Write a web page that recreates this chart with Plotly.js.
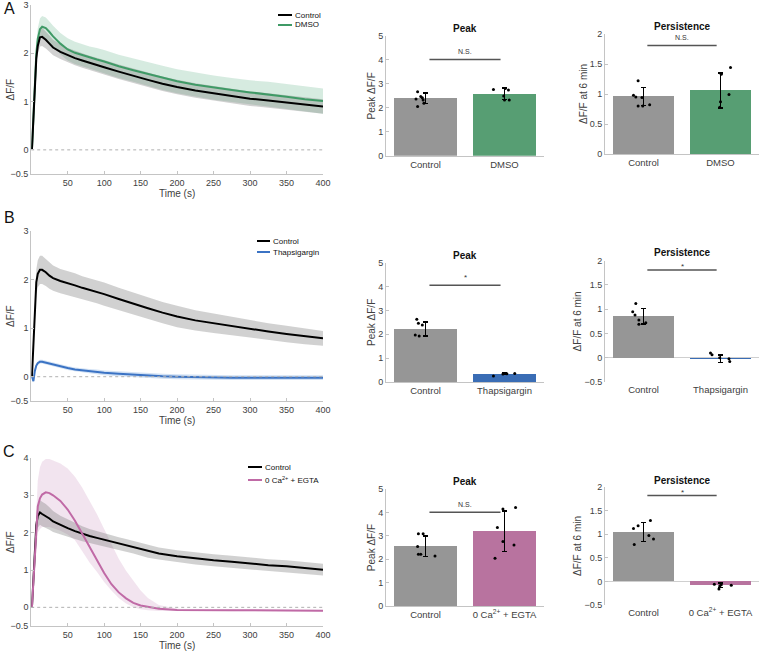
<!DOCTYPE html>
<html><head><meta charset="utf-8">
<script src="https://cdn.plot.ly/plotly-3.0.1.min.js"></script>
<style>html,body{margin:0;padding:0;background:#fff}#chart{width:760px;height:655px}</style>
</head><body><div id="chart"></div>
<script>
// ---------- time-course data ----------
const t = [1,3,5,7,9,12,15,20,25,30,40,50,60,70,80,90,100,120,140,160,180,200,225,250,275,300,325,350,375,400];
const ctrlA = [0.0,0.6,1.4,1.9,2.15,2.33,2.34,2.28,2.2,2.12,2.03,1.96,1.9,1.85,1.8,1.76,1.71,1.62,1.53,1.45,1.37,1.30,1.23,1.17,1.11,1.06,1.02,0.98,0.94,0.90];
const ctrlAsem = [0,0.05,0.1,0.14,0.17,0.19,0.19,0.18,0.17,0.16,0.15,0.15,0.15,0.15,0.15,0.15,0.15,0.15,0.15,0.15,0.15,0.15,0.15,0.15,0.15,0.15,0.15,0.15,0.15,0.15];
const dmsoA = [0.0,0.6,1.45,2.0,2.3,2.5,2.55,2.52,2.44,2.35,2.2,2.08,2.01,1.96,1.91,1.87,1.83,1.73,1.65,1.57,1.49,1.42,1.35,1.29,1.24,1.19,1.15,1.10,1.05,1.01];
const dmsoAsem = [0,0.08,0.15,0.2,0.22,0.22,0.22,0.22,0.22,0.22,0.22,0.23,0.23,0.23,0.23,0.24,0.24,0.24,0.24,0.25,0.25,0.25,0.25,0.25,0.25,0.25,0.26,0.26,0.26,0.26];

const ctrlB = [0.0,0.7,1.5,1.95,2.12,2.2,2.2,2.15,2.08,2.03,1.97,1.93,1.88,1.83,1.79,1.75,1.70,1.60,1.50,1.41,1.32,1.24,1.16,1.10,1.04,0.98,0.93,0.88,0.83,0.79];
const ctrlBsem = [0,0.1,0.2,0.26,0.28,0.29,0.29,0.28,0.27,0.26,0.25,0.25,0.25,0.24,0.24,0.24,0.24,0.23,0.23,0.23,0.22,0.22,0.21,0.2,0.19,0.18,0.17,0.17,0.16,0.15];
const thapB = [0.0,-0.09,0.12,0.23,0.28,0.31,0.31,0.29,0.27,0.25,0.21,0.18,0.15,0.13,0.11,0.10,0.08,0.06,0.04,0.02,0.01,0.0,-0.01,-0.01,-0.02,-0.02,-0.02,-0.02,-0.02,-0.02];
const thapBsem = [0.02,0.03,0.04,0.04,0.04,0.04,0.04,0.04,0.04,0.04,0.04,0.04,0.04,0.04,0.05,0.05,0.05,0.05,0.05,0.05,0.05,0.05,0.05,0.05,0.05,0.05,0.05,0.05,0.05,0.05];

const tC = [1,3,5,7,9,12,15,20,25,30,40,50,60,70,80,90,100,110,120,130,140,150,160,175,200,225,250,275,300,325,350,375,400];
const ctrlC = [0.0,0.8,1.7,2.2,2.45,2.54,2.5,2.45,2.38,2.3,2.2,2.12,2.04,1.97,1.91,1.86,1.81,1.76,1.71,1.66,1.61,1.55,1.5,1.44,1.37,1.31,1.26,1.22,1.17,1.13,1.10,1.06,1.01];
const ctrlCsem = [0,0.15,0.25,0.3,0.32,0.33,0.33,0.32,0.3,0.28,0.25,0.23,0.21,0.2,0.19,0.18,0.18,0.18,0.17,0.17,0.17,0.17,0.17,0.16,0.16,0.16,0.16,0.16,0.16,0.16,0.16,0.16,0.16];
const egtaC = [0.0,0.7,1.6,2.3,2.7,2.92,3.02,3.08,3.06,3.0,2.85,2.62,2.32,1.97,1.62,1.27,0.92,0.62,0.4,0.24,0.12,0.05,0.01,-0.04,-0.07,-0.08,-0.08,-0.08,-0.08,-0.08,-0.09,-0.09,-0.09];
const egtaHi = [0.0,0.9,2.0,2.9,3.4,3.75,3.9,3.97,3.97,3.93,3.85,3.72,3.5,3.2,2.85,2.5,2.1,1.7,1.3,0.98,0.7,0.45,0.25,0.06,-0.04,-0.06,-0.06,-0.06,-0.06,-0.06,-0.07,-0.07,-0.07];
const egtaLo = [0.0,0.5,1.2,1.7,2.0,2.1,2.15,2.15,2.15,2.12,2.05,1.95,1.8,1.5,1.2,0.95,0.68,0.45,0.25,0.1,0.0,-0.05,-0.08,-0.1,-0.1,-0.1,-0.1,-0.1,-0.1,-0.1,-0.11,-0.11,-0.11];

// ---------- names / categories ----------
const namesA = ['Control','DMSO'];
const namesB = ['Control','Thapsigargin'];
const namesC = ['Control','0 Ca<sup>2+</sup> + EGTA'];
const timeTicks = [50,100,150,200,250,300,350,400];

// ---------- bar data ----------
const peakA = [2.40, 2.58], peakAerr = [0.21, 0.24];
const persA = [0.96, 1.06], persAerr = [0.15, 0.29];
const peakB = [2.22, 0.34], peakBerr = [0.30, 0.03];
const persB = [0.86, -0.02], persBerr = [0.16, 0.08];
const peakC = [2.56, 3.20], peakCerr = [0.44, 0.87];
const persC = [1.05, -0.08], persCerr = [0.20, 0.05];

// individual points (values) and their horizontal jitter
const peakAc = [2.67,2.37,2.47,2.42,2.33,2.05,2.19], peakAcJ = [-0.10,-0.12,-0.06,-0.04,-0.03,-0.10,-0.02];
const peakAt = [2.77,2.81,2.74,2.49,2.33,2.33], peakAtJ = [-0.14,0.01,0.05,-0.01,0,0.06];
const persAc = [1.22,0.98,0.95,0.94,0.80,0.80,0.82], persAcJ = [-0.07,-0.13,-0.10,-0.02,-0.07,-0.01,0.08];
const persAt = [1.44,1.33,0.99,0.87,0.78], persAtJ = [0.13,0.01,0.11,0,-0.01];
const peakBc = [2.63,2.46,2.39,1.97,1.93], peakBcJ = [-0.11,-0.09,-0.04,-0.13,-0.08];
const peakBt = [0.25,0.34,0.36,0.36,0.35], peakBtJ = [-0.14,-0.02,0,0.13,0.03];
const persBc = [1.12,0.95,0.88,0.78,0.69,0.72], persBcJ = [-0.10,-0.14,-0.11,-0.06,-0.06,0.03];
const persBt = [0.10,0.06,0.0,-0.02,-0.08], persBtJ = [-0.13,-0.11,-0.01,0.11,0.12];
const peakCc = [3.09,3.09,2.54,2.21,2.21,2.14], peakCcJ = [-0.09,-0.03,-0.10,-0.09,-0.06,0.12];
const peakCt = [4.14,4.21,3.36,2.76,2.61,2.04], peakCtJ = [-0.02,0.14,-0.09,-0.02,0.12,-0.12];
const persCc = [1.12,1.18,1.29,0.97,0.90,0.78], persCcJ = [-0.13,-0.07,0.09,0.07,0.13,-0.12];
const persCt = [-0.06,-0.10,-0.07,-0.08,-0.16], persCtJ = [-0.08,-0.01,0.01,0.14,-0.02];

// significance bars: y level and label
const sigPeak = [4.02, 4.05, 4.01], sigPeakTxt = ['N.S.','*','N.S.'];
const sigPers = [1.81, 1.81, 1.82], sigPersTxt = ['N.S.','*','*'];

// ---------- styling ----------
const W = 760, H = 655;
const FONT = 'Liberation Sans, Arial, Helvetica, sans-serif';
const GRAY = '#969696';
const COL = {
  green:{line:'#3f9a66', bar:'#579e73', band:'rgba(90,175,130,0.25)'},
  blue:{line:'#3b73c4', bar:'#3a6db5', band:'rgba(80,140,210,0.25)'},
  pink:{line:'#c06aa6', bar:'#b8739f', band:'rgba(195,130,180,0.22)'}
};
const CTRL_BAND = 'rgba(120,120,120,0.34)';
const AXC = '#c4c4c4';
const px = v => v / W, py = v => 1 - v / H;

const traces = [];
const shapes = [];
const annotations = [];

function band(x, lo, hi, color, xa, ya) {
  traces.push({x, y: lo, xaxis: xa, yaxis: ya, mode: 'lines', line: {width: 0}, showlegend: false, hoverinfo: 'skip'});
  traces.push({x, y: hi, xaxis: xa, yaxis: ya, mode: 'lines', line: {width: 0}, fill: 'tonexty', fillcolor: color, showlegend: false, hoverinfo: 'skip'});
}
function line(x, y, color, xa, ya, name) {
  traces.push({x, y, xaxis: xa, yaxis: ya, mode: 'lines', line: {color, width: 2}, name, showlegend: false});
}
const sub = (m, s) => m.map((v, i) => v - s[i]);
const add = (m, s) => m.map((v, i) => v + s[i]);

// Row A time course
band(t, sub(dmsoA, dmsoAsem), add(dmsoA, dmsoAsem), COL.green.band, 'x', 'y');
band(t, sub(ctrlA, ctrlAsem), add(ctrlA, ctrlAsem), CTRL_BAND, 'x', 'y');
line(t, dmsoA, COL.green.line, 'x', 'y', namesA[1]);
line(t, ctrlA, '#000', 'x', 'y', namesA[0]);
// Row B
band(t, sub(ctrlB, ctrlBsem), add(ctrlB, ctrlBsem), CTRL_BAND, 'x4', 'y4');
band(t, sub(thapB, thapBsem), add(thapB, thapBsem), COL.blue.band, 'x4', 'y4');
line(t, ctrlB, '#000', 'x4', 'y4', namesB[0]);
line(t, thapB, COL.blue.line, 'x4', 'y4', namesB[1]);
// Row C
band(tC, egtaLo, egtaHi, COL.pink.band, 'x7', 'y7');
band(tC, sub(ctrlC, ctrlCsem), add(ctrlC, ctrlCsem), CTRL_BAND, 'x7', 'y7');
line(tC, ctrlC, '#000', 'x7', 'y7', namesC[0]);
line(tC, egtaC, COL.pink.line, 'x7', 'y7', namesC[1]);

// bar panels
function barPanel(xa, ya, means, errs, color, ptsC, jC, ptsT, jT, sigY, sigTxt, starShift) {
  traces.push({type: 'bar', x: [0, 1], y: means, xaxis: xa, yaxis: ya, width: 0.8,
    marker: {color: [GRAY, color], line: {width: 0}}, showlegend: false,
    error_y: {type: 'data', array: errs, visible: true, color: '#000', thickness: 1.5, width: 2.5}});
  traces.push({x: jC.map(j => 0 + j), y: ptsC, xaxis: xa, yaxis: ya, mode: 'markers',
    marker: {color: '#000', size: 3}, showlegend: false});
  traces.push({x: jT.map(j => 1 + j), y: ptsT, xaxis: xa, yaxis: ya, mode: 'markers',
    marker: {color: '#000', size: 3}, showlegend: false});
  traces.push({x: [0.05, 0.95], y: [sigY, sigY], xaxis: xa, yaxis: ya, mode: 'lines',
    line: {color: '#555', width: 1.5}, showlegend: false});
  const star = sigTxt === '*';
  annotations.push({xref: xa, yref: ya, x: 0.5, y: sigY, text: sigTxt, showarrow: false, xanchor: 'center',
    yanchor: 'bottom', yshift: star ? starShift : 2, font: {family: FONT, size: star ? 8 : 7, color: '#333'}});
}
barPanel('x2', 'y2', peakA, peakAerr, COL.green.bar, peakAc, peakAcJ, peakAt, peakAtJ, sigPeak[0], sigPeakTxt[0], 1);
barPanel('x3', 'y3', persA, persAerr, COL.green.bar, persAc, persAcJ, persAt, persAtJ, sigPers[0], sigPersTxt[0], -3);
barPanel('x5', 'y5', peakB, peakBerr, COL.blue.bar, peakBc, peakBcJ, peakBt, peakBtJ, sigPeak[1], sigPeakTxt[1], 1);
barPanel('x6', 'y6', persB, persBerr, COL.blue.bar, persBc, persBcJ, persBt, persBtJ, sigPers[1], sigPersTxt[1], -3);
barPanel('x8', 'y8', peakC, peakCerr, COL.pink.bar, peakCc, peakCcJ, peakCt, peakCtJ, sigPeak[2], sigPeakTxt[2], 1);
barPanel('x9', 'y9', persC, persCerr, COL.pink.bar, persCc, persCcJ, persCt, persCtJ, sigPers[2], sigPersTxt[2], -3);

// ---------- axes ----------
const base = {showline: true, linecolor: AXC, linewidth: 1, ticks: 'inside', ticklen: 3, tickcolor: AXC, automargin: false,
  tickfont: {family: FONT, size: 9, color: '#404040'}, showgrid: false, zeroline: false, fixedrange: true};
const ttl = (text, standoff) => ({text, font: {family: FONT, size: 10, color: '#404040'}, standoff});

const layout = {width: W, height: H, margin: {l: 0, r: 0, t: 0, b: 0, autoexpand: false}, paper_bgcolor: '#fff', plot_bgcolor: 'rgba(0,0,0,0)',
  font: {family: FONT}, showlegend: false, bargap: 0, shapes, annotations};

const ann = (x, y, text, size, extra) => annotations.push(Object.assign({xref: 'paper', yref: 'paper', x: px(x), y: py(y), text,
  showarrow: false, xanchor: 'center', yanchor: 'middle', font: {family: FONT, size, color: '#111'}}, extra || {}));

const timeX = [px(31.2), px(323)], peakX = [px(386), px(544)], persX = [px(605), px(759)];
const rows = [
  {time: [174, 5], peak: [155.7, 36], pers: [154, 34], tr: [-0.5, 3], tt: [-0.5, 0, 1, 2, 3], pr: [0, 2], pt: [0, 0.5, 1, 1.5, 2], names: namesA},
  {time: [401, 231], peak: [382, 262.7], pers: [382, 260.7], tr: [-0.5, 3], tt: [-0.5, 0, 1, 2, 3], pr: [-0.5, 2], pt: [-0.5, 0, 0.5, 1, 1.5, 2], names: namesB},
  {time: [626, 458], peak: [606, 489], pers: [605, 487], tr: [-0.5, 4], tt: [-0.5, 0, 1, 2, 3, 4], pr: [-0.5, 2], pt: [-0.5, 0, 0.5, 1, 1.5, 2], names: namesC}
];
rows.forEach((r, i) => {
  const n = i * 3;
  const k = s => (s === 1 ? '' : s);
  const a1 = n + 1, a2 = n + 2, a3 = n + 3;
  layout['xaxis' + k(a1)] = {...base, domain: timeX, anchor: 'y' + k(a1), range: [0, 400], tickvals: timeTicks, title: ttl('Time (s)', 3)};
  layout['yaxis' + k(a1)] = {...base, domain: [py(r.time[0]), py(r.time[1])], anchor: 'x' + k(a1), range: r.tr, tickvals: r.tt};
  ann(10, (r.time[0] + r.time[1]) / 2, 'ΔF/F', 10, {textangle: -90, font: {family: FONT, size: 10, color: '#404040'}});
  layout['xaxis' + a2] = {...base, domain: peakX, anchor: 'y' + a2, range: [-0.5, 1.5], tickvals: [0, 1], ticktext: r.names, ticks: '', tickfont: {family: FONT, size: 9.5, color: '#404040'}};
  layout['yaxis' + a2] = {...base, domain: [py(r.peak[0]), py(r.peak[1])], anchor: 'x' + a2, range: [0, 5], tickvals: [0, 1, 2, 3, 4, 5], title: ttl('Peak ΔF/F', 0)};
  const neg = r.pr[0] < 0;
  layout['xaxis' + a3] = {...base, domain: persX, anchor: 'y' + a3, range: [-0.5, 1.5], tickvals: [0, 1], ticktext: r.names, ticks: '', showline: !neg, tickfont: {family: FONT, size: 9.5, color: '#404040'}};
  layout['yaxis' + a3] = {...base, domain: [py(r.pers[0]), py(r.pers[1])], anchor: 'x' + a3, range: r.pr, tickvals: r.pt, title: ttl('ΔF/F at 6 min', 0),
    zeroline: neg, zerolinecolor: '#cfcfcf', zerolinewidth: 1.5};
  // dotted zero line in time plot
  shapes.push({type: 'line', xref: 'x' + k(a1), yref: 'y' + k(a1), x0: 0, x1: 400, y0: 0, y1: 0, line: {color: '#b0b0b0', width: 1, dash: 'dot'}});
});

// panel titles
const titleY = [[28, 27], [255, 253], [481, 480]];
titleY.forEach(ty => {
  ann(465, ty[0], '<b>Peak</b>', 10);
  ann(682, ty[1], '<b>Persistence</b>', 10);
});
// panel letters
[['A', 9], ['B', 218], ['C', 452]].forEach(([L, y]) => ann(9, y, L, 16));
// legends (line sample + label)
const legends = [
  {x0: 278, x1: 292, ys: [15, 25], names: namesA, cols: ['#000', COL.green.line]},
  {x0: 257, x1: 270, ys: [241, 252], names: namesB, cols: ['#000', COL.blue.line]},
  {x0: 248, x1: 262, ys: [467, 480], names: namesC, cols: ['#000', COL.pink.line]}
];
legends.forEach(lg => {
  lg.ys.forEach((y, j) => {
    shapes.push({type: 'line', xref: 'paper', yref: 'paper', x0: px(lg.x0), x1: px(lg.x1), y0: py(y), y1: py(y), line: {color: lg.cols[j], width: 2}});
    ann(lg.x1 + 0.5, y, lg.names[j], 8, {xanchor: 'left'});
  });
});

Plotly.newPlot('chart', traces, layout, {staticPlot: true, displayModeBar: false});
</script></body></html>
